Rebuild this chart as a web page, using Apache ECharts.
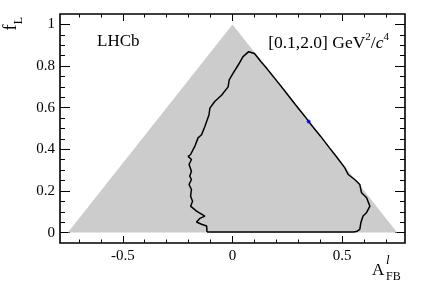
<!DOCTYPE html>
<html>
<head>
<meta charset="utf-8">
<script src="https://cdn.jsdelivr.net/npm/echarts@6/dist/echarts.min.js"></script>
<style>
  html, body { margin: 0; padding: 0; background: #fff; }
  #chart { width: 427px; height: 290px; }
</style>
</head>
<body>
<div id="chart"></div>
<script>
// physical boundary of (A_FB, f_L)
var triangle = [[-0.75, 0], [0, 1], [0.75, 0]];

// contour (A_FB, f_L)
var contour = [
  [-0.116, 0.003], [-0.118, 0.032], [-0.141, 0.040], [-0.164, 0.051], [-0.149, 0.068],
  [-0.126, 0.079], [-0.164, 0.103], [-0.191, 0.127], [-0.182, 0.151], [-0.191, 0.175],
  [-0.187, 0.207], [-0.198, 0.231], [-0.187, 0.255], [-0.195, 0.271], [-0.187, 0.295],
  [-0.198, 0.327], [-0.187, 0.351], [-0.202, 0.366], [-0.191, 0.375], [-0.172, 0.414],
  [-0.157, 0.455], [-0.141, 0.470], [-0.126, 0.510], [-0.107, 0.566], [-0.103, 0.598],
  [-0.081, 0.630], [-0.050, 0.660], [-0.020, 0.700], [-0.015, 0.733], [0.003, 0.766],
  [0.026, 0.805], [0.048, 0.845], [0.074, 0.869],
  [0.100, 0.860], [0.112, 0.845], [0.130, 0.821], [0.150, 0.797], [0.210, 0.718],
  [0.240, 0.678], [0.287, 0.614], [0.330, 0.558], [0.347, 0.534], [0.365, 0.510],
  [0.402, 0.462], [0.442, 0.407], [0.472, 0.367], [0.512, 0.311], [0.527, 0.279],
  [0.557, 0.255], [0.580, 0.231], [0.588, 0.191], [0.611, 0.167], [0.626, 0.127],
  [0.610, 0.095], [0.595, 0.080], [0.585, 0.048], [0.580, 0.016], [0.565, 0.005],
  [0.550, 0.003], [-0.116, 0.003]
];

// best fit point
var bestFit = [[0.347, 0.534]];

var xMajor = [-0.5, 0, 0.5];
var xMinor = [-0.7, -0.6, -0.4, -0.3, -0.2, -0.1, 0.1, 0.2, 0.3, 0.4, 0.6, 0.7];
var yMajor = [0, 0.2, 0.4, 0.6, 0.8, 1];
var yMinor = [0.05, 0.1, 0.15, 0.25, 0.3, 0.35, 0.45, 0.5, 0.55, 0.65, 0.7, 0.75, 0.85, 0.9, 0.95];

var xMin = -0.786, xMax = 0.786;
var yMin = -0.05, yMax = 1.05;
var serif = 'Liberation Serif';

function xAxisDef(pos, values, len, labels) {
    return {
        type: 'value', position: pos, min: xMin, max: xMax,
        axisLine: { show: false, onZero: false },
        splitLine: { show: false },
        axisTick: { show: true, inside: true, length: len, customValues: values,
            lineStyle: { color: '#000', width: 1 } },
        axisLabel: labels ? {
            show: true, customValues: values, margin: 6,
            fontFamily: serif, fontSize: 15, color: '#000',
            formatter: function (v) { return String(v); }
        } : { show: false }
    };
}
function yAxisDef(pos, values, len, labels) {
    return {
        type: 'value', position: pos, min: yMin, max: yMax,
        axisLine: { show: false, onZero: false },
        splitLine: { show: false },
        axisTick: { show: true, inside: true, length: len, customValues: values,
            lineStyle: { color: '#000', width: 1 } },
        axisLabel: labels ? {
            show: true, customValues: values, margin: 5,
            fontFamily: serif, fontSize: 15, color: '#000',
            formatter: function (v) { return String(v); }
        } : { show: false }
    };
}

var myChart = echarts.init(document.getElementById('chart'));
myChart.setOption({
    animation: false,
    backgroundColor: '#fff',
    grid: {
        left: 60, right: 22, top: 14, bottom: 47,
        show: true, borderColor: '#000', borderWidth: 1.6, backgroundColor: 'transparent', z: 5
    },
    xAxis: [
        xAxisDef('bottom', xMajor, 7, true),
        xAxisDef('bottom', xMinor, 3.5, false),
        xAxisDef('top', xMajor, 7, false),
        xAxisDef('top', xMinor, 3.5, false)
    ],
    yAxis: [
        yAxisDef('left', yMajor, 10, true),
        yAxisDef('left', yMinor, 5, false),
        yAxisDef('right', yMajor, 10, false),
        yAxisDef('right', yMinor, 5, false)
    ],
    series: [
        {
            type: 'line', data: triangle, showSymbol: false, z: 1,
            lineStyle: { width: 0, color: '#cccccc' },
            areaStyle: { color: '#cccccc', opacity: 1 }
        },
        {
            type: 'line', data: contour, showSymbol: false, z: 2,
            lineStyle: { width: 1.5, color: '#000' }
        },
        {
            type: 'scatter', data: bestFit, symbol: 'circle', symbolSize: 4, z: 3,
            itemStyle: { color: '#0000ff' }
        }
    ],
    graphic: [
        {
            type: 'text', left: 97, top: 33,
            style: { text: 'LHCb', font: '17px "Liberation Serif"', fill: '#000' }
        },
        {
            type: 'text', right: 38, top: 32,
            style: {
                text: '{n|[0.1,2.0] GeV}{s|2}{n|/}{i|c}{s|4}',
                rich: {
                    n: { fontFamily: serif, fontSize: 17.5, lineHeight: 20, verticalAlign: 'bottom', fill: '#000' },
                    i: { fontFamily: serif, fontSize: 17.5, fontStyle: 'italic', lineHeight: 20, verticalAlign: 'bottom', fill: '#000' },
                    s: { fontFamily: serif, fontSize: 11, lineHeight: 11, verticalAlign: 'top', fill: '#000' }
                }
            }
        },
        {
            type: 'text', x: 11, y: 24.5, rotation: Math.PI / 2,
            style: { text: 'f', font: '18px "Liberation Serif"', fill: '#000',
                align: 'right', verticalAlign: 'middle' }
        },
        {
            type: 'text', x: 19, y: 17, rotation: Math.PI / 2,
            style: { text: 'L', font: '12px "Liberation Serif"', fill: '#000',
                align: 'right', verticalAlign: 'middle' }
        },
        {
            type: 'text', x: 372, y: 262,
            style: { text: 'A', font: '17px "Liberation Serif"', fill: '#000' }
        },
        {
            type: 'text', x: 386, y: 271,
            style: { text: 'FB', font: '12px "Liberation Serif"', fill: '#000' }
        },
        {
            type: 'text', x: 386, y: 254,
            style: { text: 'l', font: 'italic 13px "Liberation Serif"', fill: '#000' }
        }
    ]
});
</script>
</body>
</html>
